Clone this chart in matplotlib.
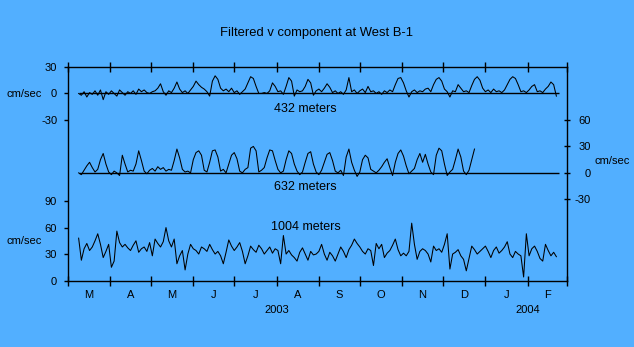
import numpy as np
import matplotlib
matplotlib.use('Agg')
import matplotlib.pyplot as plt

plt.rcParams['font.family'] = ['Liberation Sans', 'DejaVu Sans']

bg = '#52AFFF'

# hari sejak 1 Maret 2003
month_starts = [0, 31, 61, 92, 122, 153, 184, 214, 245, 275, 306, 337, 366]
month_labels = ['M', 'A', 'M', 'J', 'J', 'A', 'S', 'O', 'N', 'D', 'J', 'F']
year_labels = ['2003', '2004']
year_days = [153, 337]

# 432 m
days_432 = np.arange(8, 360, 2)
v_432 = [0, -2, 2, -4, 1, -1, 3, -2, 4, -7,
         2, -1, 3, 0, -3, 4, 1, -2, 2, 0,
         3, -1, 5, 2, 4, 1, 0, 2, 3, 6,
         11, 2, -2, 3, 1, 6, 13, 5, 1, 3,
         0, 4, 8, 14, 10, 7, 5, 2, -3, 14,
         20, 16, 6, 3, 5, 2, 6, 1, 3, -1,
         2, 5, 12, 19, 17, 8, 0, 0, 1, 0,
         3, 12, 8, 2, 3, -1, 8, 18, 14, -3,
         4, 2, 3, 8, 16, 12, -2, 3, 5, 2,
         6, 11, 7, 1, 3, 0, 2, -1, 4, 18,
         2, 4, 0, 3, 5, 1, 8, 2, 3, 0,
         2, -1, 3, 1, 4, 2, 10, 17, 18, 12,
         3, -4, 2, 4, 1, 3, 2, 5, 6, 2,
         10, 16, 18, 14, 5, 2, -4, 3, 2, 10,
         6, 2, 3, 1, 9, 16, 19, 15, 6, 2,
         4, 1, 5, 2, 3, 1, 4, 10, 16, 19,
         17, 10, 2, 3, 1, 4, 8, 10, 2, 3,
         1, 5, 8, 13, 10, -3]

# 632 m
days_632 = np.arange(8, 300, 2)
v_632 = [0, -2, 3, 8, 12, 6, 1, 4, 15, 22,
         10, 1, -2, 2, 0, -3, 20, 10, 1, 3,
         2, 10, 25, 14, 2, -1, 3, 5, 2, 7,
         4, 6, 2, 4, 3, 14, 27, 17, 4, 1,
         2, 0, 15, 23, 25, 20, 3, 1, 12, 25,
         26, 18, 2, 4, 0, 10, 20, 23, 16, 2,
         0, 4, 6, 28, 30, 25, 1, 3, 6, 17,
         26, 25, 14, 4, 0, 2, 15, 25, 22, 10,
         2, -2, 1, 12, 22, 24, 10, 1, -2, 3,
         12, 21, 23, 14, 2, 0, 3, -3, 18, 27,
         12, 3, -4, 1, 15, 20, 17, 4, 2, 0,
         3, 7, 12, 16, 6, -3, 12, 22, 26, 19,
         8, -1, 2, 5, 15, 22, 12, 21, 10, 1,
         -2, 20, 28, 25, 10, -3, 1, 4, 15, 27,
         18, 2, -2, 3, 15, 27]

# 1004 m
days_1004 = np.arange(8, 360, 2)
v_1004 = [48, 23, 36, 42, 34, 38, 45, 53, 41, 26,
          33, 41, 15, 22, 56, 43, 38, 41, 37, 34,
          40, 45, 32, 36, 38, 33, 43, 28, 47, 42,
          38, 44, 60, 45, 38, 47, 19, 28, 34, 12,
          30, 41, 36, 34, 30, 38, 36, 33, 41, 35,
          30, 33, 28, 19, 32, 46, 39, 34, 38, 43,
          33, 19, 28, 39, 35, 32, 40, 36, 30, 34,
          38, 31, 36, 34, 19, 51, 30, 34, 29, 26,
          22, 32, 37, 30, 23, 33, 29, 30, 33, 41,
          30, 23, 32, 28, 22, 30, 38, 33, 26, 35,
          40, 47, 42, 38, 33, 30, 36, 34, 17, 42,
          36, 41, 26, 31, 34, 40, 47, 35, 28, 31,
          28, 33, 65, 41, 24, 33, 36, 34, 30, 21,
          39, 34, 36, 32, 41, 53, 13, 30, 32, 35,
          28, 24, 11, 25, 39, 35, 30, 33, 36, 39,
          33, 26, 34, 38, 31, 34, 38, 44, 30, 26,
          33, 30, 28, 4, 53, 28, 36, 39, 33, 25,
          22, 41, 34, 28, 32, 27]

# geseran vertikal tiap kedalaman
off_432 = 212
off_632 = 122
off_1004 = 0

fig = plt.figure(figsize=(6.34, 3.47), dpi=100, facecolor=bg)
ax = fig.add_axes([0.1068, 0.1916, 0.788, 0.6153])
ax.set_facecolor(bg)

ax.plot(days_432, np.array(v_432) + off_432, color='black', lw=0.75)
ax.plot(days_632, np.array(v_632) + off_632, color='black', lw=0.75)
ax.plot(days_1004, np.array(v_1004) + off_1004, color='black', lw=0.75)
ax.hlines([off_432, off_632], 8, 360, color='black', lw=1.0)

ax.set_xlim(0, 366)
ax.set_ylim(0, 242)

for s in ax.spines.values():
    s.set_linewidth(1.0)
    s.set_color('black')

ax.set_xticks(month_starts)
ax.set_xticklabels([])
mids = [(month_starts[i] + month_starts[i + 1]) / 2 for i in range(12)]
ax.set_xticks(mids, minor=True)
ax.set_xticklabels(month_labels, minor=True, fontsize=8)
ax.tick_params(axis='x', which='major', direction='inout', length=6.5, width=1.0, top=True)
ax.tick_params(axis='x', which='minor', length=0, pad=6.5)

ax.set_yticks([0, 30, 60, 90, off_432 - 30, off_432, off_432 + 30])
ax.set_yticklabels(['0', '30', '60', '90', '-30', '0', '30'], fontsize=8)
ax.tick_params(axis='y', direction='out', length=3.1, width=1.0, pad=4.5)

ax2 = ax.twinx()
ax2.set_ylim(0, 242)
ax2.set_yticks([off_632 - 30, off_632, off_632 + 30, off_632 + 60])
ax2.set_yticklabels(['-30', '0', '30', '60'], fontsize=8, ha='right')
ax2.tick_params(axis='y', direction='inout', length=4.3, width=1.0, pad=15)
for s in ax2.spines.values():
    s.set_visible(False)

for yd, yl in zip(year_days, year_labels):
    ax.text(yd, -0.138, yl, transform=ax.get_xaxis_transform(),
            ha='center', va='center', fontsize=8)

fig.text(0.5, 0.905, 'Filtered v component at West B-1', ha='center', va='center', fontsize=9.4)
fig.text(0.481, 0.687, '432 meters', ha='center', va='center', fontsize=9)
fig.text(0.481, 0.461, '632 meters', ha='center', va='center', fontsize=9)
fig.text(0.483, 0.346, '1004 meters', ha='center', va='center', fontsize=9)
fig.text(0.0374, 0.729, 'cm/sec', ha='center', va='center', fontsize=8)
fig.text(0.0374, 0.3064, 'cm/sec', ha='center', va='center', fontsize=8)
fig.text(0.965, 0.537, 'cm/sec', ha='center', va='center', fontsize=8)

fig.savefig('out.png', dpi=100, facecolor=bg)
